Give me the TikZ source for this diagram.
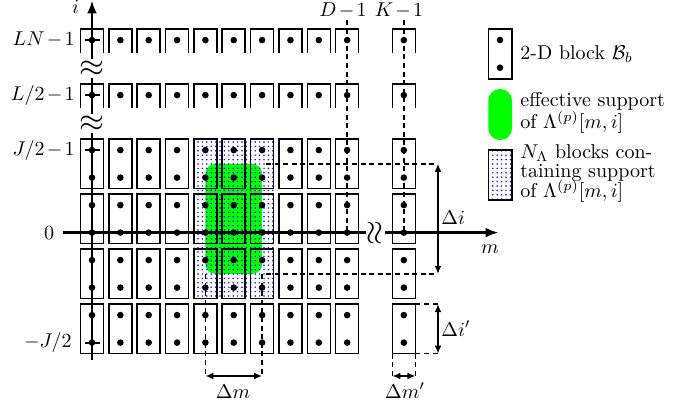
\documentclass[tikz,border=0pt]{standalone}
\usetikzlibrary{arrows.meta,patterns.meta}

\begin{document}
\begin{tikzpicture}[x=0.5pt,y=-0.5pt,
  blk/.style={draw=black,line width=0.8pt},
  axisline/.style={line width=1.2pt,-{Latex[length=6.5pt,width=5pt]}},
  tickmark/.style={line width=1.1pt},
  dsh/.style={line width=0.75pt,dash pattern=on 2.5pt off 1.8pt},
  dimarrow/.style={line width=0.75pt,{Latex[length=4pt,width=3.4pt]}-{Latex[length=4pt,width=3.4pt]}},
  brk/.style={fill=white,inner sep=0.4pt,scale=1.6},
  lbl/.style={inner sep=0pt,execute at begin node={\medmuskip=2mu}},
  legtext/.style={inner sep=0pt,anchor=base west,font=\fontsize{10}{11}\selectfont},
  shade/.style={pattern={Dots[radius=0.42pt,distance=2.2pt]},pattern color=blue},
  supp/.style={fill=green}]

\useasboundingbox (0,0) rectangle (674,406);

% effective support (green) and the blocks containing it (dotted)
\fill[supp,rounded corners=5pt] (205.4,163.9) rectangle (262.1,273.9);
\fill[shade] (193.9,139.1) rectangle (273.6,298.6);

% grid of 2-D blocks
\foreach \k in {0,...,9,11} {
  \pgfmathsetmacro\xx{92+28.35*\k}
  \foreach \t in {3,1,-1,-3} {
    \pgfmathsetmacro\ya{232.6-27.5*\t}
    \pgfmathsetmacro\yb{232.6-27.5*(\t-1)}
    \draw[blk] (\xx-11.5,\ya-11) rectangle (\xx+11.5,\yb+11);
    \fill (\xx,\ya) circle (1.65pt) (\xx,\yb) circle (1.65pt);
  }
  \foreach \t in {5,7} {
    \pgfmathsetmacro\yd{232.6-27.5*\t}
    \draw[blk] (\xx-11.5,\yd+13) -- (\xx-11.5,\yd-11) -- (\xx+11.5,\yd-11) -- (\xx+11.5,\yd+13);
    \fill (\xx,\yd) circle (1.65pt);
  }
}

% dashed guides for D-1 and K-1
\coordinate (dtop) at (347.15,20);
\coordinate (dbot) at (347.15,232.6);
\coordinate (ktop) at (403.85,20);
\coordinate (kbot) at (403.85,232.6);
\draw[dsh] (dtop) -- (dbot);
\draw[dsh] (ktop) -- (kbot);

% extent of the effective support
\coordinate (gtr) at (266,163.9);
\coordinate (gbr) at (266,273.9);
\coordinate (di1) at (438,163.9);
\coordinate (di2) at (438,273.9);
\draw[dsh] (gtr) -- (di1);
\draw[dsh] (gbr) -- (di2);
\draw[dimarrow] (di1) -- (di2);

\coordinate (gbl) at (205.4,273.9);
\coordinate (gbr2) at (262.1,273.9);
\coordinate (dm1) at (205.4,376);
\coordinate (dm2) at (262.1,376);
\draw[dsh] (gbl) -- (dm1);
\draw[dsh] (gbr2) -- (dm2);
\draw[dimarrow] (dm1) -- (dm2);

% size of a single block
\coordinate (bt) at (415.35,304.1);
\coordinate (bb) at (415.35,353.6);
\coordinate (bl) at (392.35,353.6);
\coordinate (dp1) at (438,304.1);
\coordinate (dp2) at (438,353.6);
\coordinate (dq1) at (392.35,376);
\coordinate (dq2) at (415.35,376);
\draw[dsh] (bt) -- (dp1);
\draw[dsh] (bb) -- (dp2);
\draw[dimarrow] (dp1) -- (dp2);
\draw[dsh] (bl) -- (dq1);
\draw[dsh] (bb) -- (dq2);
\draw[dimarrow] (dq1) -- (dq2);

% axes
\coordinate (ibot) at (92,360);
\coordinate (itop) at (92,0.5);
\coordinate (mleft) at (63,232.6);
\coordinate (mright) at (498.5,232.6);
\draw[axisline] (ibot) -- (itop);
\draw[axisline] (mleft) -- (mright);
\foreach \yy in {40.1,95.1,150.1,342.6}
  \draw[tickmark] (84.5,\yy) -- (99.5,\yy);
\node[brk] (brk1) at (92,68.5) {$\approx$};
\node[brk] (brk2) at (92,123.5) {$\approx$};
\node[brk,rotate=90] (brk3) at (375.5,232.6) {$\approx$};

% axis labels
\node[lbl,anchor=base] (ilab) at (75.5,13.5) {$i$};
\node[lbl,anchor=base] (mlab) at (490,253.3) {$m$};
\node[lbl,anchor=base east] (r1) at (75,45.1) {$LN-1$};
\node[lbl,anchor=base east] (r2) at (75,100.1) {$L/2-1$};
\node[lbl,anchor=base east] (r3) at (75,155.1) {$J/2-1$};
\node[lbl,anchor=east] (r4) at (54.5,232.6) {$0$};
\node[lbl,anchor=base east] (r5) at (72,347.6) {${-}J/2$};
\node[lbl,anchor=base] (cD) at (343,17) {$D-1$};
\node[lbl,anchor=base] (cK) at (399,17) {$K-1$};
\node[lbl,anchor=base west] (ldi) at (441,225) {$\Delta i$};
\node[lbl,anchor=base west] (ldip) at (441,336) {$\Delta i'$};
\node[lbl,anchor=base] (ldm) at (233,398) {$\Delta m$};
\node[lbl,anchor=base] (ldmp) at (405,398) {$\Delta m'$};

% legend
\draw[blk] (488.3,29.3) rectangle (511.7,79);
\fill (500,40) circle (1.65pt) (500,67.7) circle (1.65pt);
\node[legtext] (leg1) at (520,60) {2-D block $\mathcal{B}_b$};

\fill[supp,rounded corners=5.8pt] (488.3,89) rectangle (512,140);
\node[legtext] (leg2a) at (520,107) {effective support};
\node[legtext] (leg2b) at (520,128.3) {of $\Lambda^{(p)}[m,i]$};

\draw[blk,shade] (488.3,150) rectangle (511.7,200);
\node[legtext] (leg3a) at (520,158.5) {$N_\Lambda$ blocks con-};
\node[legtext] (leg3b) at (520,178) {taining support};
\node[legtext] (leg3c) at (520,198) {of $\Lambda^{(p)}[m,i]$};
\end{tikzpicture}
\end{document}
